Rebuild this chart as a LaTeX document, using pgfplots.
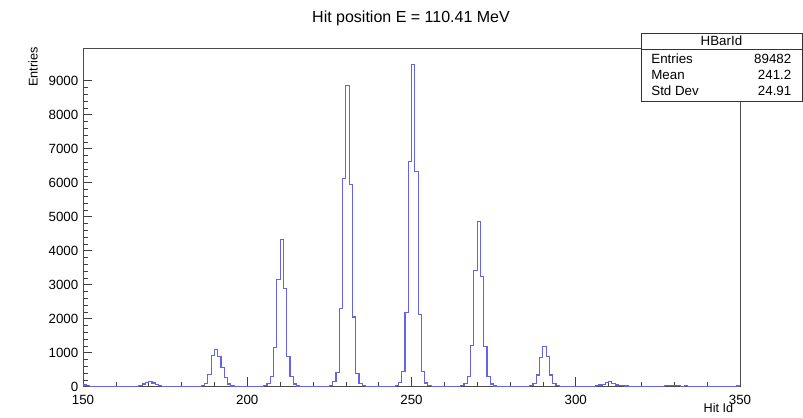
\documentclass[border=0pt]{standalone}
\usepackage{fontspec}
\setmainfont{Liberation Sans}
\usepackage{pgfplots}
\pgfplotsset{compat=1.18}
\definecolor{histblue}{RGB}{100,100,232}
\begin{document}
\begin{tikzpicture}
\begin{axis}[
  set layers,
  at={(62.25pt,-290.03pt)}, anchor=south west,
  scale only axis, width=492.75pt, height=253.8pt,
  xmin=150, xmax=350, ymin=0, ymax=9954,
  xtick={150,200,...,350}, ytick={0,1000,...,9000},
  minor x tick num=4, minor y tick num=4,
  tick align=inside, xtick pos=left, ytick pos=left,
  major tick length=7pt, minor tick length=3.5pt,
  tick style={black!75, line width=0.45pt},
  axis line style={black!70, line width=0.6pt},
  scaled y ticks=false,
  /pgf/number format/1000 sep={},
  /pgf/number format/assume math mode=true,
  ticklabel style={font=\fontsize{10}{12}\selectfont},
  xticklabel style={yshift=-2.5pt},
]
\addplot[const plot, draw=histblue, line width=0.85pt, mark=none, line join=miter] coordinates {
(150,50) (151,30) (152,15) (153,0)
(166,15) (167,40) (168,80) (169,120) (170,150) (171,110) (172,60) (173,25) (174,10) (175,0)
(185,10) (186,25) (187,90) (188,360) (189,930) (190,1100) (191,900) (192,560) (193,270) (194,80) (195,20) (196,0)
(204,10) (205,30) (206,100) (207,300) (208,1160) (209,3150) (210,4340) (211,2900) (212,900) (213,290) (214,80) (215,20) (216,0)
(224,10) (225,40) (226,150) (227,410) (228,2300) (229,6130) (230,8850) (231,5950) (232,2050) (233,400) (234,100) (235,25) (236,0)
(244,10) (245,40) (246,120) (247,440) (248,2180) (249,6620) (250,9480) (251,6330) (252,2120) (253,440) (254,110) (255,30) (256,0)
(264,10) (265,30) (266,90) (267,300) (268,1200) (269,3420) (270,4860) (271,3250) (272,1170) (273,290) (274,80) (275,20) (276,0)
(285,10) (286,30) (287,100) (288,345) (289,870) (290,1180) (291,880) (292,345) (293,100) (294,40) (295,0)
(305,10) (306,40) (307,50) (308,60) (309,120) (310,150) (311,100) (312,50) (313,30) (314,30) (315,20) (316,0)
(327,40) (328,40) (329,40) (330,45) (331,40) (332,0) (333,40) (334,0)
(349,20) (350,20)
};
\end{axis}
% title
\node[font=\fontsize{12}{14}\selectfont] at (308.25pt,-13.5pt) {Hit position E = 110.41 MeV};
% axis titles
\node[font=\fontsize{9.5}{11}\selectfont, anchor=east] at (553.5pt,-306pt) {Hit Id};
\node[font=\fontsize{9.5}{11}\selectfont, rotate=90, anchor=east] at (24.75pt,-32pt) {Entries};
% stats box
\draw[black!80, line width=0.5pt, fill=white] (480.75pt,-24.75pt) rectangle (601.5pt,-75.75pt);
\draw[black!80, line width=0.5pt] (480.75pt,-37pt) -- (601.5pt,-37pt);
\node[font=\fontsize{10}{12}\selectfont] at (541.1pt,-30.9pt) {HBarId};
\node[font=\fontsize{10}{12}\selectfont, anchor=west] at (485pt,-44pt) {Entries};
\node[font=\fontsize{10}{12}\selectfont, anchor=west] at (485pt,-56.2pt) {Mean};
\node[font=\fontsize{10}{12}\selectfont, anchor=west] at (485pt,-68.4pt) {Std Dev};
\node[font=\fontsize{10}{12}\selectfont, anchor=east] at (597pt,-44pt) {89482};
\node[font=\fontsize{10}{12}\selectfont, anchor=east] at (597pt,-56.2pt) {241.2};
\node[font=\fontsize{10}{12}\selectfont, anchor=east] at (597pt,-68.4pt) {24.91};
\path (0,0) rectangle (602.25pt,-312pt);
\end{tikzpicture}
\end{document}
